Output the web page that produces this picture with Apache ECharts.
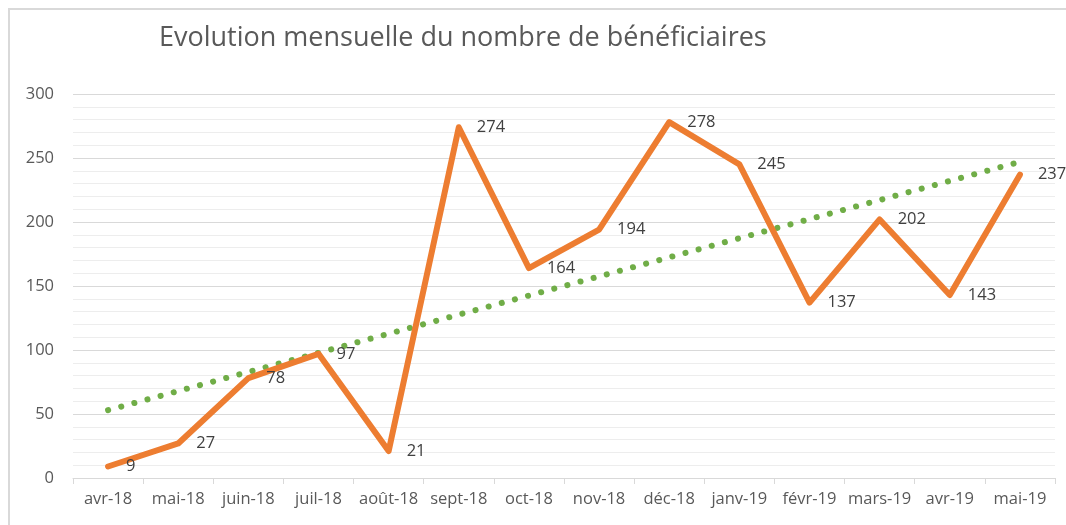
<!DOCTYPE html>
<html>
<head>
<meta charset="utf-8">
<script src="https://cdn.jsdelivr.net/npm/echarts@6/dist/echarts.min.js"></script>
<style>
  html, body { margin: 0; padding: 0; background: #fff; }
  #chart { width: 1066px; height: 525px; }
</style>
</head>
<body>
<div id="chart"></div>
<script>
const title = 'Evolution mensuelle du nombre de bénéficiaires'
const months = ['avr-18', 'mai-18', 'juin-18', 'juil-18', 'août-18', 'sept-18', 'oct-18',
  'nov-18', 'déc-18', 'janv-19', 'févr-19', 'mars-19', 'avr-19', 'mai-19']
const beneficiaires = [9, 27, 78, 97, 21, 274, 164, 194, 278, 245, 137, 202, 143, 237]
// trend line: only its two ends
const tendance = [53, null, null, null, null, null, null, null, null, null, null, null, null, 247]

const chart = echarts.init(document.getElementById('chart'))
const textColor = '#595959'
const font = '"Open Sans", "Noto Sans", sans-serif'

chart.setOption({
  animation: false,
  textStyle: { fontFamily: font },
  title: {
    text: title,
    left: 154,
    top: 20,
    textStyle: { fontSize: 27, fontWeight: 'normal', color: textColor, fontFamily: font }
  },
  graphic: [{
    type: 'polyline',
    shape: { points: [[9, 525], [9, 9], [1066, 9]] },
    style: { stroke: '#d9d9d9', lineWidth: 2, fill: null },
    silent: true
  }],
  grid: { left: 73, right: 11, top: 94, bottom: 47 },
  xAxis: {
    type: 'category',
    data: months,
    boundaryGap: true,
    axisLine: { lineStyle: { color: '#d9d9d9', width: 1 } },
    axisTick: { show: true, length: 6, lineStyle: { color: '#d9d9d9' } },
    axisLabel: { color: textColor, fontSize: 16.5, margin: 13, interval: 0 }
  },
  yAxis: {
    type: 'value',
    min: 0,
    max: 300,
    interval: 50,
    axisLine: { show: false },
    axisTick: { show: false },
    axisLabel: { color: textColor, fontSize: 16.5, margin: 19 },
    splitLine: { lineStyle: { color: '#d9d9d9', width: 1 } },
    minorTick: { show: false, splitNumber: 5 },
    minorSplitLine: { show: true, lineStyle: { color: '#ededed', width: 1 } }
  },
  series: [
    {
      name: 'Tendance',
      type: 'line',
      data: tendance,
      connectNulls: true,
      showSymbol: false,
      symbol: 'none',
      z: 1,
      lineStyle: { color: '#70ad47', width: 6, type: [0.1, 13.5], cap: 'round' }
    },
    {
      name: 'Bénéficiaires',
      type: 'line',
      data: beneficiaires,
      showSymbol: true,
      symbol: 'circle',
      symbolSize: 2,
      itemStyle: { color: '#ed7d31' },
      z: 2,
      lineStyle: { color: '#ed7d31', width: 6, cap: 'round', join: 'round' },
      label: {
        show: true,
        position: 'right',
        distance: 17,
        color: '#404040',
        fontSize: 16.5
      }
    }
  ]
})
</script>
</body>
</html>
